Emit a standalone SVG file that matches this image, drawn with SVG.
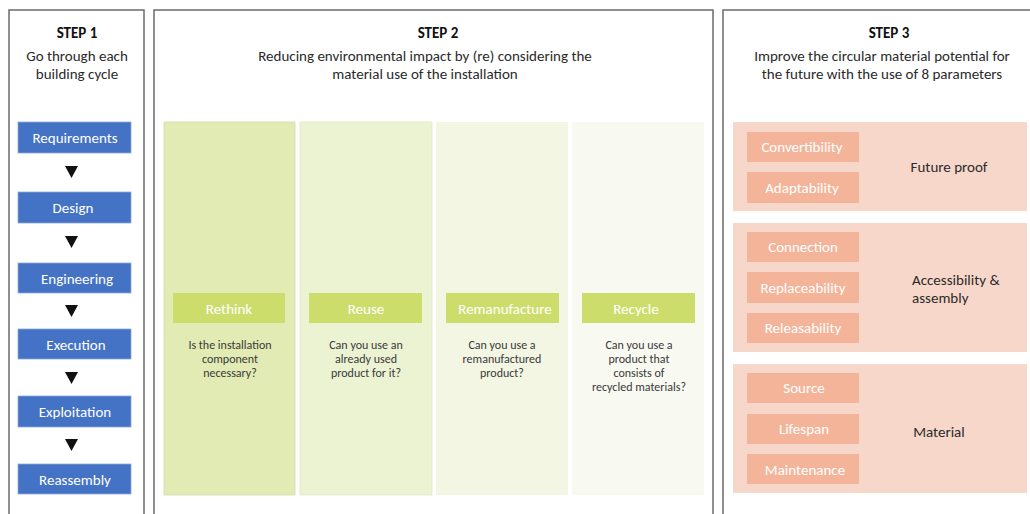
<svg xmlns="http://www.w3.org/2000/svg" width="1030" height="514" viewBox="0 0 1030 514">
  <defs>
    <style>
      text { font-family: Carlito, Lato, "Liberation Sans", sans-serif; text-anchor: middle; }
      .panel { fill: #ffffff; stroke: #6b6b6b; stroke-width: 1.5; }
      .step { font-size: 15px; font-weight: bold; fill: #111; }
      .sub { font-size: 15px; fill: #2a2a2a; }
      .cycle { fill: #4472C4; stroke: #8fa9dc; stroke-width: 0.8; }
      .wlabel { font-size: 15px; fill: #ffffff; font-weight: 300; }
      .tag { fill: #CDDD6C; }
      .q { font-size: 12px; fill: #3a3a3a; }
      .group { fill: #F8D7CB; }
      .param { fill: #F4B49A; }
      .glabel { font-size: 15px; fill: #2a2a2a; }
      .arrow { fill: #111; }
    </style>
  </defs>

  <rect width="1030" height="514" fill="#ffffff"/>

  <!-- panel frames -->
  <g id="panel-step1">
    <path class="panel" d="M9,520 V10 H144 V520"/>
    <text class="step" x="77" y="38">STEP 1</text>
    <text class="sub" x="77" y="61">Go through each</text>
    <text class="sub" x="77" y="79">building cycle</text>
  </g>
  <g id="panel-step2">
    <path class="panel" d="M154,520 V10 H713 V520"/>
    <text class="step" x="438" y="38">STEP 2</text>
    <text class="sub" x="425" y="61">Reducing environmental impact by (re) considering the</text>
    <text class="sub" x="425" y="79">material use of the installation</text>
  </g>
  <g id="panel-step3">
    <path class="panel" d="M723,520 V10 H1040"/>
    <text class="step" x="889" y="38">STEP 3</text>
    <text class="sub" x="882" y="61">Improve the circular material potential for</text>
    <text class="sub" x="882" y="79">the future with the use of 8 parameters</text>
  </g>

  <!-- building cycle -->
  <g id="requirements"><rect class="cycle" x="18" y="122" width="113" height="31"/><text class="wlabel" x="75" y="143">Requirements</text></g>
  <g id="design"><rect class="cycle" x="18" y="192" width="113" height="31"/><text class="wlabel" x="73" y="213">Design</text></g>
  <g id="engineering"><rect class="cycle" x="18" y="263" width="113" height="30"/><text class="wlabel" x="77" y="284">Engineering</text></g>
  <g id="execution"><rect class="cycle" x="18" y="329" width="113" height="30"/><text class="wlabel" x="76" y="350">Execution</text></g>
  <g id="exploitation"><rect class="cycle" x="18" y="396" width="113" height="31"/><text class="wlabel" x="75" y="417">Exploitation</text></g>
  <g id="reassembly"><rect class="cycle" x="18" y="464" width="113" height="30"/><text class="wlabel" x="75" y="485">Reassembly</text></g>

  <g id="connectors">
    <path class="arrow" d="M65,166 H78 L71.5,178 Z"/>
    <path class="arrow" d="M65,236 H78 L71.5,248 Z"/>
    <path class="arrow" d="M65,305 H78 L71.5,317 Z"/>
    <path class="arrow" d="M65,372 H78 L71.5,384 Z"/>
    <path class="arrow" d="M65,439 H78 L71.5,451 Z"/>
  </g>

  <!-- step 2 columns -->
  <g id="rethink">
    <rect x="164" y="122" width="131" height="373" fill="#E1EBB3" stroke="#d4dcb0" stroke-width="0.8"/>
    <rect class="tag" x="173" y="293" width="112" height="30"/>
    <text class="wlabel" x="229" y="314">Rethink</text>
    <text class="q" x="230" y="349">Is the installation</text>
    <text class="q" x="230" y="363">component</text>
    <text class="q" x="230" y="377">necessary?</text>
  </g>
  <g id="reuse">
    <rect x="300" y="122" width="132" height="373" fill="#ECF3D3" stroke="#e0e6cc" stroke-width="0.8"/>
    <rect class="tag" x="309" y="293" width="113" height="30"/>
    <text class="wlabel" x="366" y="314">Reuse</text>
    <text class="q" x="366" y="349">Can you use an</text>
    <text class="q" x="366" y="363">already used</text>
    <text class="q" x="366" y="377">product for it?</text>
  </g>
  <g id="remanufacture">
    <rect x="436" y="122" width="132" height="373" fill="#F2F6E2"/>
    <rect class="tag" x="446" y="293" width="113" height="30"/>
    <text class="wlabel" x="505" y="314">Remanufacture</text>
    <text class="q" x="502" y="349">Can you use a</text>
    <text class="q" x="502" y="363">remanufactured</text>
    <text class="q" x="502" y="377">product?</text>
  </g>
  <g id="recycle">
    <rect x="572" y="122" width="132" height="373" fill="#F8F9F0"/>
    <rect class="tag" x="582" y="293" width="113" height="30"/>
    <text class="wlabel" x="636" y="314">Recycle</text>
    <text class="q" x="639" y="349">Can you use a</text>
    <text class="q" x="639" y="363">product that</text>
    <text class="q" x="639" y="377">consists of</text>
    <text class="q" x="639" y="391">recycled materials?</text>
  </g>

  <!-- step 3 parameter groups -->
  <g id="future-proof">
    <rect class="group" x="733" y="122" width="294" height="89"/>
    <rect class="param" x="747" y="132" width="112" height="30"/>
    <text class="wlabel" x="802" y="152">Convertibility</text>
    <rect class="param" x="747" y="172" width="112" height="31"/>
    <text class="wlabel" x="802" y="193">Adaptability</text>
    <text class="glabel" x="949" y="172">Future proof</text>
  </g>
  <g id="accessibility-assembly">
    <rect class="group" x="733" y="223" width="294" height="129"/>
    <rect class="param" x="747" y="232" width="112" height="30"/>
    <text class="wlabel" x="803" y="252">Connection</text>
    <rect class="param" x="747" y="272" width="112" height="31"/>
    <text class="wlabel" x="803" y="293">Replaceability</text>
    <rect class="param" x="747" y="313" width="112" height="30"/>
    <text class="wlabel" x="803" y="333">Releasability</text>
    <text class="glabel" x="912" y="285" style="text-anchor:start">Accessibility &amp;</text>
    <text class="glabel" x="912" y="303" style="text-anchor:start">assembly</text>
  </g>
  <g id="material">
    <rect class="group" x="733" y="364" width="294" height="129"/>
    <rect class="param" x="747" y="373" width="112" height="30"/>
    <text class="wlabel" x="804" y="393">Source</text>
    <rect class="param" x="747" y="414" width="112" height="30"/>
    <text class="wlabel" x="804" y="434">Lifespan</text>
    <rect class="param" x="747" y="454" width="112" height="30"/>
    <text class="wlabel" x="805" y="475">Maintenance</text>
    <text class="glabel" x="939" y="437">Material</text>
  </g>
</svg>
